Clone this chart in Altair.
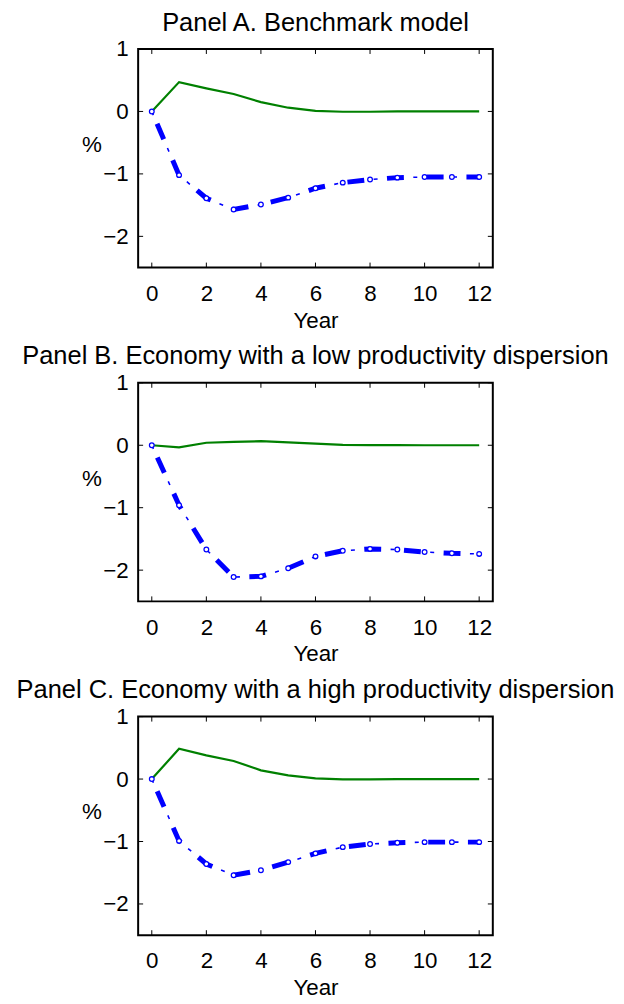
import altair as alt
import pandas as pd

years = list(range(13))
xtick_vals = [0, 2, 4, 6, 8, 10, 12]
ytick_vals = [-2, -1, 0, 1]

titles = [
    "Panel A. Benchmark model",
    "Panel B. Economy with a low productivity dispersion",
    "Panel C. Economy with a high productivity dispersion",
]

a_green = [0, 0.47, 0.37, 0.28, 0.15, 0.06, 0.01, -0.005, -0.005, 0, 0, 0, 0]
a_blue = [0, -1.02, -1.39, -1.57, -1.49, -1.38, -1.23, -1.14, -1.09, -1.06, -1.05, -1.05, -1.05]

b_green = [0, -0.035, 0.04, 0.055, 0.065, 0.045, 0.025, 0.005, 0.003, 0.002, 0, 0, 0]
b_blue = [0, -0.96, -1.67, -2.11, -2.10, -1.97, -1.78, -1.69, -1.66, -1.67, -1.71, -1.73, -1.74]

c_green = [0, 0.485, 0.38, 0.29, 0.14, 0.06, 0.01, -0.005, -0.005, 0, 0, 0, 0]
c_blue = [0, -0.99, -1.36, -1.54, -1.46, -1.33, -1.19, -1.09, -1.04, -1.02, -1.01, -1.01, -1.01]

W, H = 357, 220
FONT = "Liberation Sans"
TL = 5  # inward tick length

xs = alt.Scale(domain=[-0.5, 12.5], nice=False, zero=False)
ys = alt.Scale(domain=[-2.5, 1], nice=False, zero=False)

xaxis = alt.Axis(values=xtick_vals, title="Year", labelPadding=15, titleY=42,
                 titleBaseline="top")
yaxis = alt.Axis(values=ytick_vals, title="%", labelPadding=10, titleAngle=0,
                 titleX=-47, titleY=96, titleAlign="center", titleBaseline="middle")


def panel(title, green, blue):
    df = pd.DataFrame({"year": years, "green": green, "blue": blue})
    base = alt.Chart(df).encode(
        x=alt.X("year:Q", scale=xs, axis=xaxis),
    )
    green_line = base.mark_line(color="#008000", strokeWidth=2.2).encode(
        y=alt.Y("green:Q", scale=ys, axis=yaxis),
    )
    blue_thick = base.mark_line(color="#0000ff", strokeWidth=5, strokeDash=[17, 23],
                                strokeDashOffset=26.5).encode(
        y=alt.Y("blue:Q", scale=ys, axis=yaxis),
    )
    blue_thin = base.mark_line(color="#0000ff", strokeWidth=1.6, strokeDash=[4, 36]).encode(
        y=alt.Y("blue:Q", scale=ys, axis=yaxis),
    )
    blue_pts = base.mark_point(shape="circle", size=22, fill="white", fillOpacity=1,
                               stroke="#0000ff", strokeWidth=1.3, opacity=1).encode(
        y=alt.Y("blue:Q", scale=ys, axis=yaxis),
    )
    xt = alt.Chart(pd.DataFrame({"t": xtick_vals}))
    yt = alt.Chart(pd.DataFrame({"t": ytick_vals}))
    xb = xt.mark_rule(color="black", strokeWidth=1).encode(
        x=alt.X("t:Q", scale=xs, axis=xaxis), y=alt.value(H), y2=alt.value(H - TL))
    xtop = xt.mark_rule(color="black", strokeWidth=1).encode(
        x=alt.X("t:Q", scale=xs, axis=xaxis), y=alt.value(0), y2=alt.value(TL))
    yl = yt.mark_rule(color="black", strokeWidth=1).encode(
        y=alt.Y("t:Q", scale=ys, axis=yaxis), x=alt.value(0), x2=alt.value(TL))
    yr = yt.mark_rule(color="black", strokeWidth=1).encode(
        y=alt.Y("t:Q", scale=ys, axis=yaxis), x=alt.value(W), x2=alt.value(W - TL))
    return alt.layer(green_line, blue_thick, blue_thin, blue_pts, xb, xtop, yl, yr).properties(
        width=W, height=H,
        title=alt.TitleParams(title, fontSize=25.6, font=FONT,
                              fontWeight="normal", anchor="middle", frame="group",
                              offset=-18, baseline="alphabetic", color="black"),
    )


chart = alt.vconcat(
    panel(titles[0], a_green, a_blue),
    panel(titles[1], b_green, b_blue),
    panel(titles[2], c_green, c_blue),
    spacing=116, bounds="flush",
).properties(
    padding={"left": 7, "top": -2, "right": 0, "bottom": 0}
).configure(
    font=FONT, background="white"
).configure_view(
    stroke="black", strokeWidth=2
).configure_axis(
    ticks=False, tickSize=0, domain=False, grid=False,
    labelFontSize=22.5, titleFontSize=22.5, labelColor="black", titleColor="black",
    titleFontWeight="normal", labelFont=FONT, titleFont=FONT,
)

chart.save("out.html", embed_options={"renderer": "svg", "actions": False})
